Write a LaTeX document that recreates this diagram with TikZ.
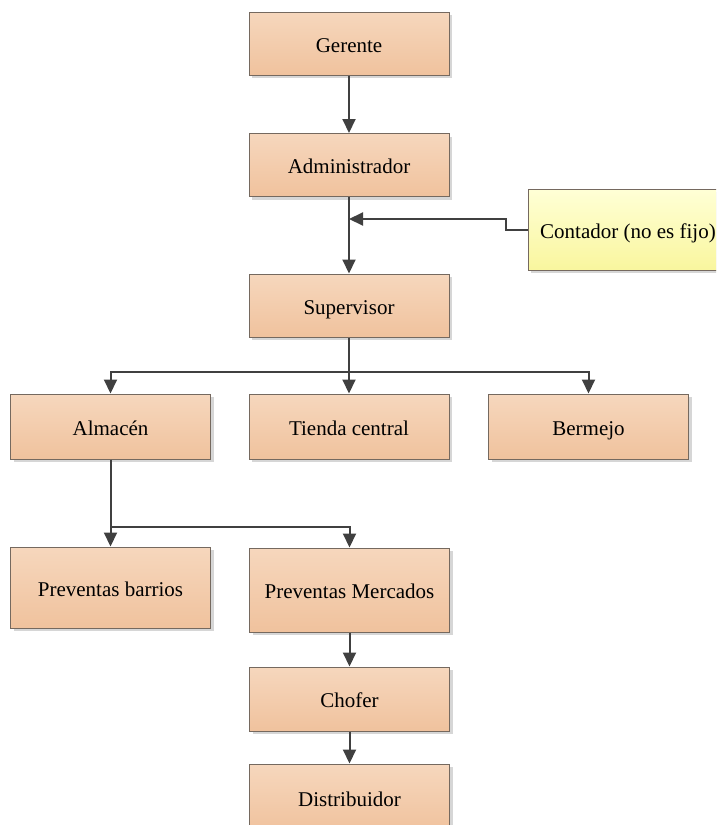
\documentclass[tikz,border=0pt]{standalone}
\usepackage{fontspec}
\setmainfont{Liberation Serif}
\usetikzlibrary{arrows.meta,shadows,calc}

\definecolor{boxtop}{HTML}{F6D7BD}
\definecolor{boxbot}{HTML}{F0C29D}
\definecolor{boxline}{HTML}{75695F}
\definecolor{notetop}{HTML}{FFFFD6}
\definecolor{notebot}{HTML}{F9F69E}
\definecolor{wire}{HTML}{404040}

\tikzset{
  orgbox/.style={rectangle, draw=boxline, line width=1pt,
    top color=boxtop, bottom color=boxbot,
    minimum width=200pt, minimum height=63pt, inner sep=0pt,
    text height=20pt, text depth=3pt,
    font=\fontsize{21}{25}\selectfont, text=black,
    drop shadow={shadow xshift=3pt, shadow yshift=-3pt, fill=black!16, opacity=1}},
  notebox/.style={orgbox, top color=notetop, bottom color=notebot},
  wireline/.style={draw=wire, line width=2pt},
  wirearrow/.style={wireline, -{Triangle[width=13pt,length=14pt]}}
}

\begin{document}
\begin{tikzpicture}[x=1pt, y=-1pt]
  \useasboundingbox (0,0) rectangle (716,825);
  \clip (0,0) rectangle (716,825);

  % chain of command
  \node[orgbox] (ger) at (349,43.5) {Gerente};
  \node[orgbox] (adm) at (349,165) {Administrador};
  \node[orgbox] (sup) at (349,305.5) {Supervisor};
  \node[notebox, minimum height=81pt] (con) at (628,229.5) {Contador (no es fijo)};

  % branches
  \node[orgbox, minimum height=65pt] (alm) at (110.5,426.5) {Almacén};
  \node[orgbox, minimum height=65pt] (tie) at (349,426.5) {Tienda central};
  \node[orgbox, minimum height=65pt] (ber) at (588.5,426.5) {Bermejo};

  % sales and delivery
  \node[orgbox, minimum height=81pt] (pba) at (110.5,587.5) {Preventas barrios};
  \node[orgbox, minimum height=84pt] (pme) at (349.5,590) {Preventas Mercados};
  \node[orgbox, minimum height=64pt] (cho) at (349.5,699) {Chofer};
  \node[orgbox, minimum height=68pt] (dis) at (349.5,798) {Distribuidor};

  % junction points
  \coordinate (cjoin) at (349,219);
  \coordinate (bus1) at (349,372);
  \coordinate (bus2) at (110.5,527);

  % connectors
  \draw[wirearrow] (ger.south) -- (adm.north);
  \draw[wirearrow] (adm.south) -- (sup.north);
  \draw[wirearrow] (con.west) -- ++(-22,0) |- (cjoin);

  \draw[wireline] (sup.south) -- (bus1);
  \draw[wirearrow] (bus1) -| (alm.north);
  \draw[wirearrow] (bus1) -- (tie.north);
  \draw[wirearrow] (bus1) -| (ber.north);

  \draw[wireline] (alm.south) -- (bus2);
  \draw[wirearrow] (bus2) -- (pba.north);
  \draw[wirearrow] (bus2) -| (pme.north);

  \draw[wirearrow] (pme.south) -- (cho.north);
  \draw[wirearrow] (cho.south) -- (dis.north);
\end{tikzpicture}
\end{document}
